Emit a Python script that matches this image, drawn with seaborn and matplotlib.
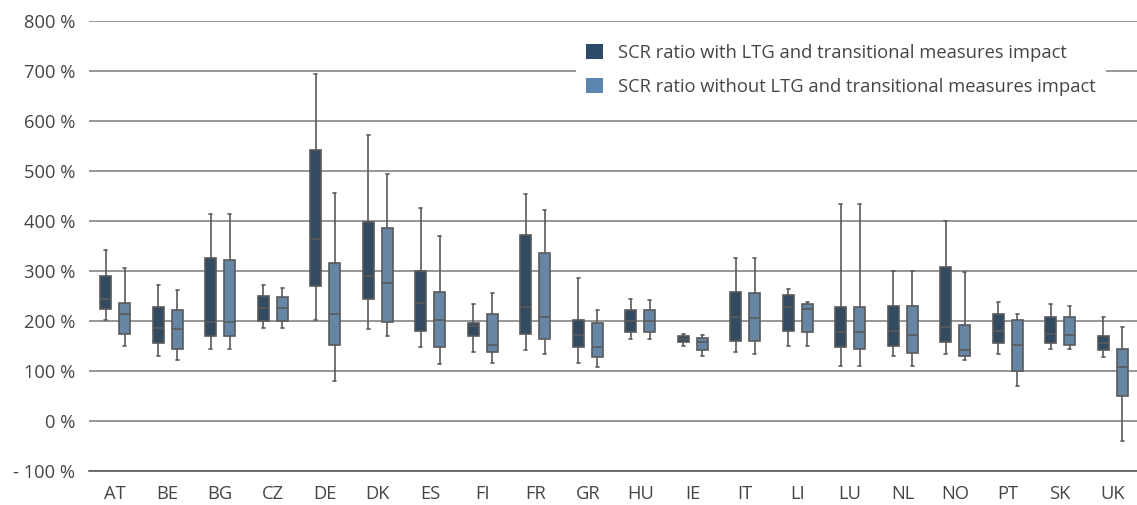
import matplotlib.pyplot as plt
import seaborn as sns
import numpy as np
import pandas as pd
from matplotlib.patches import Patch

# values (SCR ratio in %)
countries = ['AT', 'BE', 'BG', 'CZ', 'DE', 'DK', 'ES', 'FI', 'FR', 'GR',
             'HU', 'IE', 'IT', 'LI', 'LU', 'NL', 'NO', 'PT', 'SK', 'UK']

# with LTG and transitional measures
with_min = [203, 131, 145, 187, 203, 184, 148, 139, 142, 117,
            165, 151, 139, 151, 111, 131, 134, 134, 145, 129]
with_q1 = [225, 156, 170, 200, 270, 245, 181, 170, 175, 148,
           178, 159, 161, 181, 148, 151, 159, 156, 156, 142]
with_med = [245, 187, 198, 226, 365, 290, 237, 191, 229, 173,
            201, 165, 209, 229, 178, 181, 189, 181, 175, 156]
with_q3 = [290, 229, 326, 251, 543, 398, 301, 197, 373, 203,
           223, 170, 259, 253, 229, 231, 309, 215, 209, 170]
with_max = [343, 273, 415, 273, 694, 573, 426, 234, 454, 287,
            245, 175, 326, 265, 434, 301, 401, 239, 234, 209]

# without LTG and transitional measures
without_min = [151, 123, 145, 187, 81, 170, 115, 117, 134, 109,
               165, 131, 134, 151, 111, 111, 123, 70, 145, -39]
without_q1 = [175, 145, 170, 200, 153, 198, 148, 139, 165, 129,
              178, 142, 161, 178, 145, 137, 131, 101, 153, 51]
without_med = [215, 184, 198, 226, 215, 276, 203, 153, 209, 148,
               201, 159, 206, 225, 178, 173, 142, 153, 173, 109]
without_q3 = [237, 223, 323, 248, 317, 387, 259, 215, 337, 197,
              223, 167, 256, 234, 229, 231, 192, 203, 209, 145]
without_max = [307, 263, 415, 267, 457, 495, 371, 256, 423, 223,
               243, 173, 326, 239, 434, 301, 298, 215, 231, 189]

series_names = ['SCR ratio with LTG and transitional measures impact',
                'SCR ratio without LTG and transitional measures impact']
colors = ['#2b4b69', '#5a86af']

# 5 numbers per box -> quartiles come out exactly with whis=(0, 100)
rows = []
for name, arrs in zip(series_names,
                      [(with_min, with_q1, with_med, with_q3, with_max),
                       (without_min, without_q1, without_med, without_q3, without_max)]):
    for i, c in enumerate(countries):
        for a in arrs:
            rows.append({'country': c, 'series': name, 'value': a[i]})
df = pd.DataFrame(rows)

sns.set_style('white')
plt.rcParams['font.family'] = ['Open Sans', 'DejaVu Sans']
text_color = '#454545'
line_color = '#5a5a5a'
fs = 13.2

fig = plt.figure(figsize=(11.37, 5.05), dpi=100)
ax = fig.add_axes([89 / 1137, 34 / 505, 1048 / 1137, 450 / 505])

sns.boxplot(data=df, x='country', y='value', hue='series',
            order=countries, hue_order=series_names,
            palette=dict(zip(series_names, colors)),
            whis=(0, 100), width=0.72, gap=0.42, fliersize=0,
            linecolor=line_color, linewidth=1.2, legend=False, ax=ax,
            capwidths=0.06)

for art in ax.patches:
    art.set_zorder(3)
for ln in ax.lines:
    ln.set_zorder(3)

ax.set_xlim(-0.5, -0.5 + 1048 / 52.5)
ax.set_ylim(-100, 800)
ax.set_yticks(range(-100, 801, 100))
ax.set_yticklabels([f'- {abs(v)} %' if v < 0 else f'{v} %' for v in range(-100, 801, 100)])
ax.set_xticks(np.arange(-0.5, 19.5, 1), minor=True)

ax.yaxis.grid(True, color='#7a7a7a', linewidth=1.1, zorder=0)
ax.set_axisbelow(True)
for s in ['top', 'right', 'left']:
    ax.spines[s].set_visible(False)
ax.spines['bottom'].set_color(line_color)
ax.spines['bottom'].set_linewidth(1.2)

ax.tick_params(axis='y', length=0, pad=10, labelsize=fs, labelcolor=text_color)
ax.tick_params(axis='x', which='major', length=0, pad=10, labelsize=fs, labelcolor=text_color)
ax.tick_params(axis='x', which='minor', length=5, width=1, color=line_color)
ax.set_xlabel('')
ax.set_ylabel('')

handles = [Patch(facecolor=c, edgecolor='none') for c in colors]
leg = ax.legend(handles, series_names, loc='upper left',
                bbox_to_anchor=(576 / 1137, 1 - 34 / 505),
                bbox_transform=fig.transFigure,
                frameon=True, facecolor='white', edgecolor='none', framealpha=1,
                fontsize=fs, handlelength=0.9, handleheight=0.9,
                handletextpad=0.85, labelspacing=0.85, borderpad=0.55,
                borderaxespad=0, fancybox=False)
for t in leg.get_texts():
    t.set_color(text_color)
leg.set_zorder(5)

fig.savefig('out.png', dpi=100)
